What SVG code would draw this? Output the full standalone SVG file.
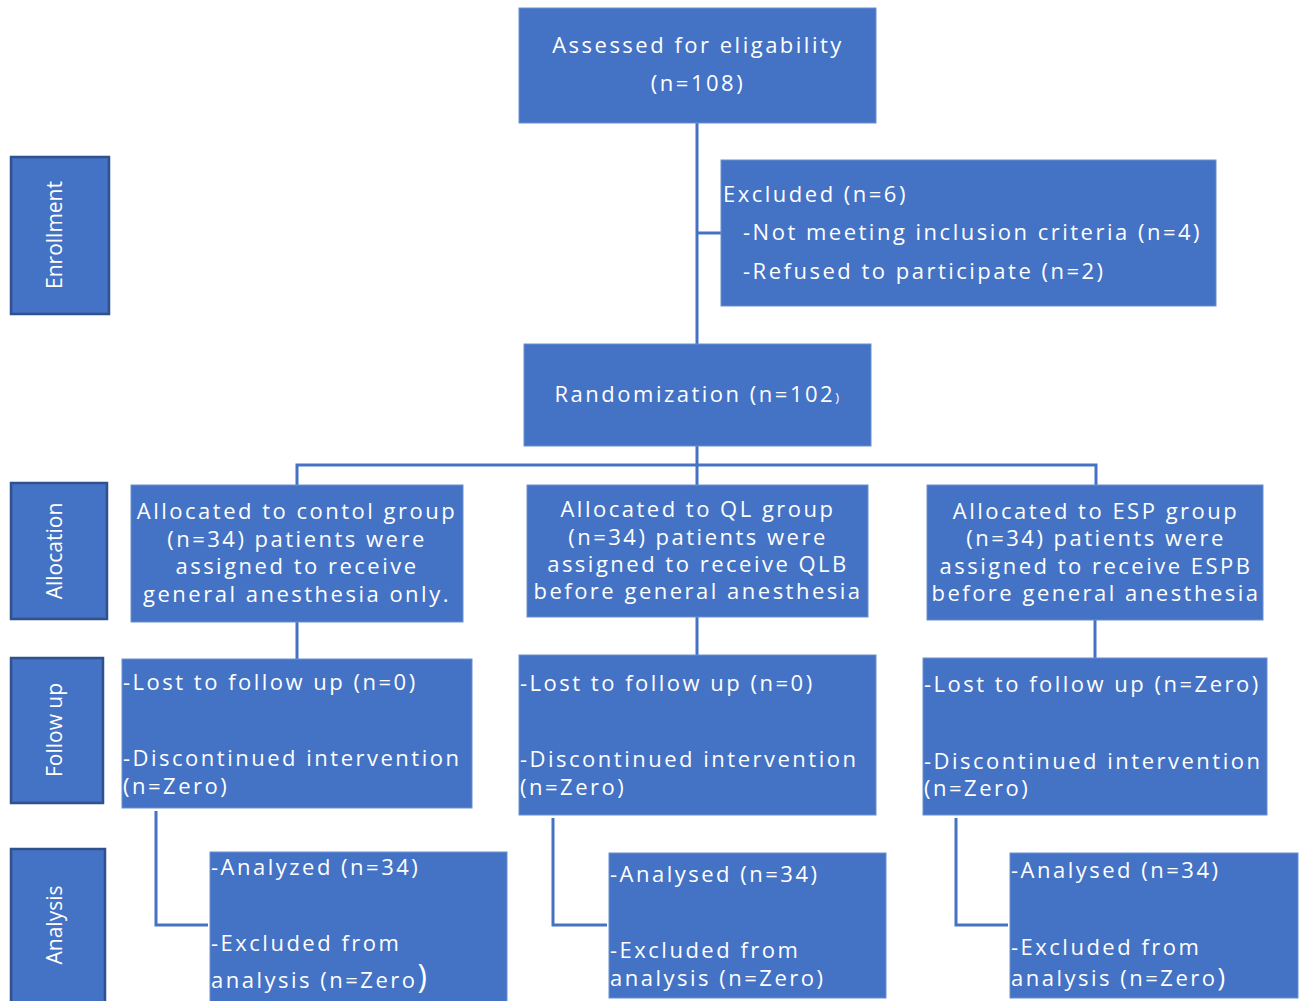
<svg xmlns="http://www.w3.org/2000/svg" width="1304" height="1001" viewBox="0 0 1304 1001">
<style>
.box{fill:#4472C4;stroke:#6A8FD0;stroke-width:1}
.side{fill:#4472C4;stroke:#2F528F;stroke-width:2.5}
.t{font-family:"Open Sans","Noto Sans",sans-serif;font-size:22px;fill:#fff;letter-spacing:2.5px}
.c{text-anchor:middle}
.s{font-family:"Open Sans","Noto Sans",sans-serif;font-size:21px;fill:#fff;text-anchor:middle}
.ln{fill:none;stroke:#4472C4;stroke-width:3}
</style>
<rect width="1304" height="1001" fill="#fff"/>
<g id="connectors">
<path class="ln" d="M697,123 V344"/>
<path class="ln" d="M697,233 H721"/>
<path class="ln" d="M697,446 V485 M297,485 V465 H1096 V485"/>
<path class="ln" d="M297,622 V659 M697,617 V655 M1095,620 V658"/>
<path class="ln" d="M156,811 V925 H208"/>
<path class="ln" d="M553,818 V925 H607"/>
<path class="ln" d="M956,818 V925 H1008"/>
</g>
<g id="enrollment"><rect class="side" x="11" y="157" width="98" height="157"/><text class="s" transform="translate(62,235) rotate(-90)">Enrollment</text></g>
<g id="allocation"><rect class="side" x="11" y="483" width="96" height="136"/><text class="s" transform="translate(62,551) rotate(-90)">Allocation</text></g>
<g id="followup"><rect class="side" x="11" y="658" width="92" height="145"/><text class="s" transform="translate(62,730) rotate(-90)">Follow up</text></g>
<g id="analysis"><rect class="side" x="11" y="849" width="94" height="160"/><text class="s" transform="translate(62,925) rotate(-90)">Analysis</text></g>
<g id="assessed"><rect class="box" x="519" y="8" width="357" height="115"/><text class="t c" x="698" y="53">Assessed for eligability</text><text class="t c" x="698" y="91">(n=108)</text></g>
<g id="excluded"><rect class="box" x="721" y="160" width="495" height="146"/><text class="t" x="723" y="202">Excluded (n=6)</text><text class="t" x="743" y="240">-Not meeting inclusion criteria (n=4)</text><text class="t" x="743" y="279">-Refused to participate (n=2)</text></g>
<g id="randomization"><rect class="box" x="524" y="344" width="347" height="102"/><text class="t c" x="698" y="402">Randomization (n=102<tspan font-size="13">)</tspan></text></g>
<g id="alloc-control"><rect class="box" x="131" y="485" width="332" height="137"/><text class="t c" x="297" y="519">Allocated to contol group</text><text class="t c" x="297" y="547">(n=34) patients were</text><text class="t c" x="297" y="574">assigned to receive</text><text class="t c" x="297" y="602">general anesthesia only.</text></g>
<g id="alloc-ql"><rect class="box" x="527" y="485" width="341" height="132"/><text class="t c" x="698" y="517">Allocated to QL group</text><text class="t c" x="698" y="545">(n=34) patients were</text><text class="t c" x="698" y="572">assigned to receive QLB</text><text class="t c" x="698" y="599">before general anesthesia</text></g>
<g id="alloc-esp"><rect class="box" x="927" y="485" width="336" height="135"/><text class="t c" x="1096" y="519">Allocated to ESP group</text><text class="t c" x="1096" y="546">(n=34) patients were</text><text class="t c" x="1096" y="574">assigned to receive ESPB</text><text class="t c" x="1096" y="601">before general anesthesia</text></g>
<g id="follow-control"><rect class="box" x="122" y="659" width="350" height="149"/><text class="t" x="123" y="690">-Lost to follow up (n=0)</text><text class="t" x="123" y="766">-Discontinued intervention</text><text class="t" x="123" y="794">(n=Zero)</text></g>
<g id="follow-ql"><rect class="box" x="519" y="655" width="357" height="160"/><text class="t" x="520" y="691">-Lost to follow up (n=0)</text><text class="t" x="520" y="767">-Discontinued intervention</text><text class="t" x="520" y="795">(n=Zero)</text></g>
<g id="follow-esp"><rect class="box" x="923" y="658" width="344" height="157"/><text class="t" x="924" y="692">-Lost to follow up (n=Zero)</text><text class="t" x="924" y="769">-Discontinued intervention</text><text class="t" x="924" y="796">(n=Zero)</text></g>
<g id="analysis-control"><rect class="box" x="210" y="852" width="297" height="152"/><text class="t" x="211" y="875">-Analyzed (n=34)</text><text class="t" x="211" y="951">-Excluded from</text><text class="t" x="211" y="988">analysis (n=Zero<tspan font-size="32">)</tspan></text></g>
<g id="analysis-ql"><rect class="box" x="609" y="853" width="277" height="145"/><text class="t" x="610" y="882">-Analysed (n=34)</text><text class="t" x="610" y="958">-Excluded from</text><text class="t" x="610" y="986">analysis (n=Zero)</text></g>
<g id="analysis-esp"><rect class="box" x="1010" y="853" width="288" height="145"/><text class="t" x="1011" y="878">-Analysed (n=34)</text><text class="t" x="1011" y="955">-Excluded from</text><text class="t" x="1011" y="986">analysis (n=Zero<tspan font-size="26">)</tspan></text></g>
</svg>
